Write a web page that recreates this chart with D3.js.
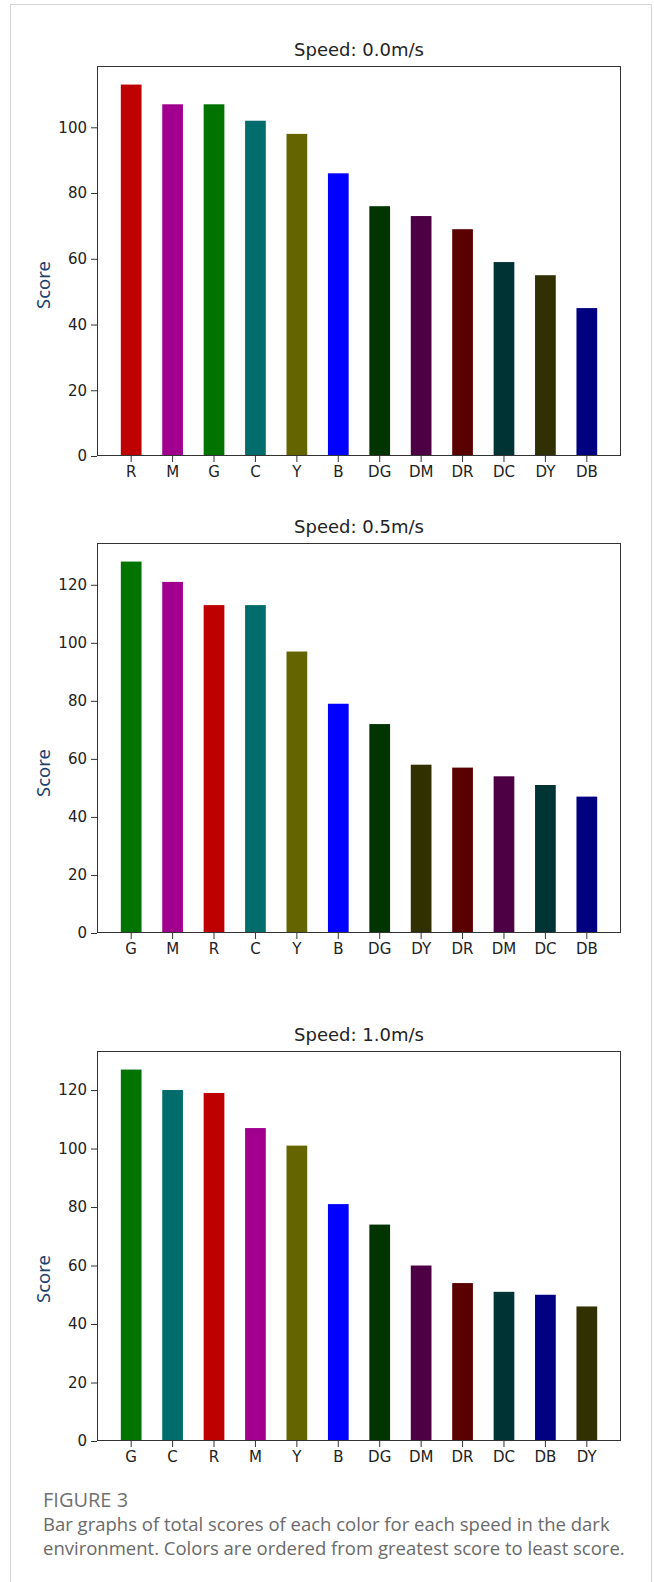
<!DOCTYPE html>
<html>
<head>
<meta charset="utf-8">
<script src="https://cdn.jsdelivr.net/npm/d3@7"></script>
<style>
  body { margin: 0; background: #fff; }
</style>
</head>
<body>
<script>
// chart data
var titles = ["Speed: 0.0m/s", "Speed: 0.5m/s", "Speed: 1.0m/s"];

var cats0 = ["R", "M", "G", "C", "Y", "B", "DG", "DM", "DR", "DC", "DY", "DB"];
var vals0 = [113, 107, 107, 102, 98, 86, 76, 73, 69, 59, 55, 45];

var cats1 = ["G", "M", "R", "C", "Y", "B", "DG", "DY", "DR", "DM", "DC", "DB"];
var vals1 = [128, 121, 113, 113, 97, 79, 72, 58, 57, 54, 51, 47];

var cats2 = ["G", "C", "R", "M", "Y", "B", "DG", "DM", "DR", "DC", "DB", "DY"];
var vals2 = [127, 120, 119, 107, 101, 81, 74, 60, 54, 51, 50, 46];

var yTicks = [0, 20, 40, 60, 80, 100, 120];

var captionHead = "FIGURE 3";
var captionLines = [
  "Bar graphs of total scores of each color for each speed in the dark",
  "environment. Colors are ordered from greatest score to least score."
];

// bar colours per category
var colorOf = {
  R: "#bf0000", M: "#a1008e", G: "#007300", C: "#006c6c",
  Y: "#656500", B: "#0000ff", DG: "#003400", DM: "#4d0044",
  DR: "#5b0000", DC: "#003333", DY: "#313000", DB: "#000080"
};

var W = 654, H = 1582;
var svg = d3.select("body").append("svg")
    .attr("width", W)
    .attr("height", H);

// card border
svg.append("rect")
    .attr("x", 10.5).attr("y", 4.5)
    .attr("width", 641).attr("height", H + 20)
    .attr("fill", "#fff")
    .attr("stroke", "#d4d4d4");

var plotLeft = 97, plotRight = 621, plotH = 390;
var tops = [66, 543, 1051];
var labelY = [285, 773, 1279];   // "Score" sits a bit below panel middle
var panels = [[cats0, vals0], [cats1, vals1], [cats2, vals2]];

panels.forEach(function(p, i) {
  var cats = p[0], vals = p[1];
  var top = tops[i];
  var g = svg.append("g").attr("transform", "translate(0," + top + ")");

  var x = d3.scaleBand()
    .domain(cats)
    .range([plotLeft, plotRight])
    .paddingInner(0.5)
    .paddingOuter(0.575);
  var y = d3.scaleLinear()
    .domain([0, d3.max(vals) * 1.05])
    .range([plotH, 0]);

  // bars
  g.selectAll("rect.bar")
    .data(vals)
    .enter().append("rect")
    .attr("class", "bar")
    .attr("x", function(d, j) { return x(cats[j]); })
    .attr("y", function(d) { return y(d); })
    .attr("width", x.bandwidth())
    .attr("height", function(d) { return plotH - y(d); })
    .attr("fill", function(d, j) { return colorOf[cats[j]]; });

  // x axis
  var xa = g.append("g")
    .attr("transform", "translate(0," + plotH + ")")
    .call(d3.axisBottom(x).tickSize(6).tickPadding(4));
  xa.select(".domain").remove();

  // y axis
  var ya = g.append("g")
    .attr("transform", "translate(" + plotLeft + ",0)")
    .call(d3.axisLeft(y).tickValues(yTicks.filter(function(t) { return t <= y.domain()[1]; }))
      .tickSize(6).tickPadding(4));
  ya.select(".domain").remove();

  [xa, ya].forEach(function(a) {
    a.attr("font-family", "DejaVu Sans").attr("font-size", 15);
    a.selectAll("line").attr("stroke", "#333");
    a.selectAll("text").attr("fill", "#222");
  });

  // frame
  g.append("rect")
    .attr("x", plotLeft + 0.5).attr("y", 0.5)
    .attr("width", plotRight - plotLeft - 1)
    .attr("height", plotH - 1)
    .attr("fill", "none")
    .attr("stroke", "#333");

  // title
  g.append("text")
    .attr("x", (plotLeft + plotRight) / 2)
    .attr("y", -10)
    .attr("text-anchor", "middle")
    .attr("font-family", "DejaVu Sans")
    .attr("font-size", 18)
    .attr("fill", "#222")
    .text(titles[i]);

  // y label
  svg.append("text")
    .attr("transform", "translate(50," + labelY[i] + ") rotate(-90)")
    .attr("text-anchor", "middle")
    .attr("font-family", "Noto Sans")
    .attr("font-size", 18.5)
    .attr("fill", "#1c3f6e")
    .text("Score");
});

// caption
svg.append("text")
  .attr("x", 43).attr("y", 1507)
  .attr("font-family", "Open Sans")
  .attr("font-size", 20)
  .attr("fill", "#707070")
  .text(captionHead);

svg.selectAll("text.cap")
  .data(captionLines)
  .enter().append("text")
  .attr("class", "cap")
  .attr("x", 43)
  .attr("y", function(d, i) { return 1531 + i * 24; })
  .attr("font-family", "Open Sans")
  .attr("font-size", 18.5)
  .attr("fill", "#6a6a6a")
  .text(function(d) { return d; });
</script>
</body>
</html>
